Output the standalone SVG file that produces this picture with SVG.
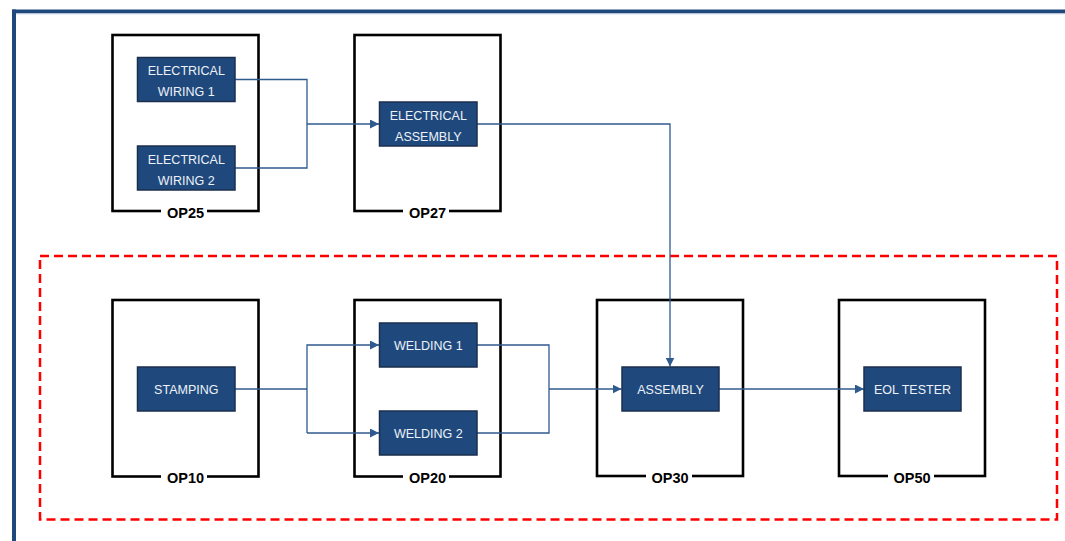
<svg xmlns="http://www.w3.org/2000/svg" width="1065" height="541" viewBox="0 0 1065 541">
<style>
.st{fill:none;stroke:#000;stroke-width:2.6}
.lbl{font-family:"Liberation Sans",Arial,sans-serif;font-weight:bold;font-size:14.5px;fill:#000;text-anchor:middle}
.gap{fill:#fff}
.bx{fill:#1F497D;stroke:#1b2f4d;stroke-width:1.5}
.bt{font-family:"Liberation Sans",Arial,sans-serif;font-size:12.5px;fill:#eef2f8;text-anchor:middle}
.cn{fill:none;stroke:#2F5A8E;stroke-width:1.3}
</style>
<defs>
<marker id="ah" viewBox="0 0 10 10" refX="10" refY="5" markerWidth="9" markerHeight="9" markerUnits="userSpaceOnUse" orient="auto">
<path d="M0,0 L10,5 L0,10 z" fill="#2F5A8E"/>
</marker>
</defs>
<rect width="1065" height="541" fill="#fff"/>
<g id="frame">
<line x1="12" y1="11.5" x2="1065" y2="11.5" stroke="#1F497D" stroke-width="4"/>
<line x1="12" y1="14" x2="1065" y2="14" stroke="#dce3f0" stroke-width="1"/>
<line x1="14" y1="9.5" x2="14" y2="541" stroke="#1F497D" stroke-width="4"/>
</g>
<rect id="scope" x="40" y="256" width="1017" height="263.5" fill="none" stroke="#FF0000" stroke-width="2.5" stroke-dasharray="9,5"/>
<g id="op25">
<rect class="st" x="112.5" y="35" width="146" height="176"/>
<rect class="gap" x="161" y="205" width="46" height="14"/>
<text class="lbl" x="185.5" y="217.5">OP25</text>
</g>
<g id="op27">
<rect class="st" x="354.5" y="35" width="146" height="176"/>
<rect class="gap" x="403" y="205" width="46" height="14"/>
<text class="lbl" x="427.5" y="217.5">OP27</text>
</g>
<g id="op10">
<rect class="st" x="112.5" y="300" width="146" height="176.5"/>
<rect class="gap" x="161" y="470" width="46" height="14"/>
<text class="lbl" x="185.5" y="482.5">OP10</text>
</g>
<g id="op20">
<rect class="st" x="354.5" y="300" width="146" height="176.5"/>
<rect class="gap" x="403" y="470" width="46" height="14"/>
<text class="lbl" x="427.5" y="482.5">OP20</text>
</g>
<g id="op30">
<rect class="st" x="597" y="300" width="146" height="176"/>
<rect class="gap" x="646" y="470" width="46" height="14"/>
<text class="lbl" x="670" y="482.5">OP30</text>
</g>
<g id="op50">
<rect class="st" x="839" y="300" width="146" height="176"/>
<rect class="gap" x="888" y="470" width="46" height="14"/>
<text class="lbl" x="912" y="482.5">OP50</text>
</g>
<g id="connectors">
<path class="cn" d="M235,79.5 H307 V168 H235"/>
<path class="cn" d="M307,124 H379" marker-end="url(#ah)"/>
<path class="cn" d="M477,124 H670 V366.5" marker-end="url(#ah)"/>
<path class="cn" d="M235,389 H307"/>
<path class="cn" d="M307,433 V345 H379" marker-end="url(#ah)"/>
<path class="cn" d="M307,433 H379" marker-end="url(#ah)"/>
<path class="cn" d="M477,345 H549 V433 H477"/>
<path class="cn" d="M549,389 H621.5" marker-end="url(#ah)"/>
<path class="cn" d="M719,389 H864" marker-end="url(#ah)"/>
</g>
<g id="electrical-wiring-1">
<rect class="bx" x="137.5" y="57.5" width="97.5" height="44"/>
<text class="bt" x="186.3" y="75">ELECTRICAL</text>
<text class="bt" x="186.3" y="96">WIRING 1</text>
</g>
<g id="electrical-wiring-2">
<rect class="bx" x="137.5" y="146" width="97.5" height="44"/>
<text class="bt" x="186.3" y="163.5">ELECTRICAL</text>
<text class="bt" x="186.3" y="184.5">WIRING 2</text>
</g>
<g id="electrical-assembly">
<rect class="bx" x="379.5" y="102" width="97.5" height="44"/>
<text class="bt" x="428.3" y="119.5">ELECTRICAL</text>
<text class="bt" x="428.3" y="140.5">ASSEMBLY</text>
</g>
<g id="stamping">
<rect class="bx" x="137.5" y="367" width="97.5" height="44"/>
<text class="bt" x="186.3" y="393.5">STAMPING</text>
</g>
<g id="welding-1">
<rect class="bx" x="379.5" y="323" width="97.5" height="44"/>
<text class="bt" x="428.3" y="349.5">WELDING 1</text>
</g>
<g id="welding-2">
<rect class="bx" x="379.5" y="411" width="97.5" height="44"/>
<text class="bt" x="428.3" y="437.5">WELDING 2</text>
</g>
<g id="assembly">
<rect class="bx" x="622" y="367" width="97" height="44"/>
<text class="bt" x="670.5" y="393.5">ASSEMBLY</text>
</g>
<g id="eol-tester">
<rect class="bx" x="864" y="367" width="97" height="44"/>
<text class="bt" x="912.5" y="393.5">EOL TESTER</text>
</g>
</svg>
